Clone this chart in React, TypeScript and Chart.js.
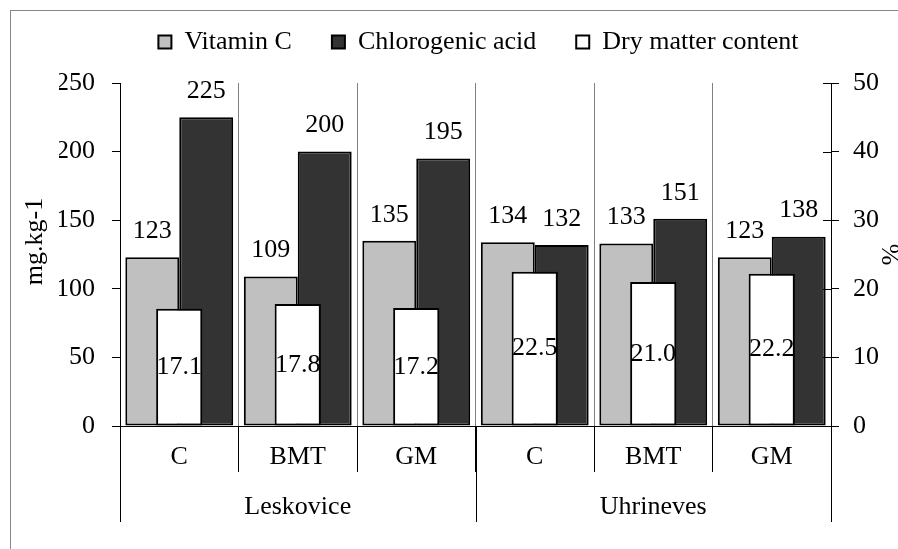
import React, { useEffect, useRef } from 'react';
import { Chart, registerables } from 'chart.js';

Chart.register(...registerables);

// ---- data ----
const categories = ['C', 'BMT', 'GM', 'C', 'BMT', 'GM'];
const groups = ['Leskovice', 'Uhrineves'];
const groupSize = 3;
const vitaminC = [123, 109, 135, 134, 133, 123];
const chlorogenicAcid = [225, 200, 195, 132, 151, 138];
const dryMatter = [17.1, 17.8, 17.2, 22.5, 21.0, 22.2];
const seriesNames = ['Vitamin C', 'Chlorogenic acid', 'Dry matter content'];
const leftAxis = { min: 0, max: 250, step: 50, title: 'mg.kg-1' };
const rightAxis = { min: 0, max: 50, step: 10, title: '%' };

const FONT = '"Liberation Serif", "Times New Roman", serif';

const legendSpacer = {
  id: 'legendSpacer',
  beforeInit(chart: any) {
    const lg = chart.legend;
    if (!lg || lg._patched) return;
    const orig = lg.fit;
    lg.fit = function () {
      orig.call(this);
      this.height += 18;
    };
    lg._patched = true;
  },
};

const valueLabels = {
  id: 'valueLabels',
  afterDatasetsDraw(chart: any) {
    const ctx = chart.ctx;
    ctx.save();
    ctx.font = `26px ${FONT}`;
    ctx.fillStyle = '#000';
    ctx.textAlign = 'center';
    ctx.textBaseline = 'middle';
    chart.data.datasets.forEach((ds: any, di: number) => {
      const meta = chart.getDatasetMeta(di);
      meta.data.forEach((bar: any, i: number) => {
        const v = ds.data[i];
        if (di === 2) {
          ctx.fillText(v.toFixed(1), bar.x, (bar.y + bar.base) / 2);
        } else {
          ctx.fillText(String(v), bar.x, bar.y - 26);
        }
      });
    });
    ctx.restore();
  },
};

const groupAxis = {
  id: 'groupAxis',
  afterDraw(chart: any) {
    const ctx = chart.ctx;
    const x = chart.scales.x;
    const y2 = chart.scales.y2;
    const top = x.top;
    ctx.save();
    // group separators
    ctx.strokeStyle = '#000';
    ctx.lineWidth = 1;
    const bounds: number[] = [];
    for (let g = 0; g <= groups.length; g++) {
      const idx = g * groupSize;
      let px: number;
      if (idx === 0) px = x.left;
      else if (idx >= categories.length) px = x.right;
      else px = (x.getPixelForValue(idx - 1) + x.getPixelForValue(idx)) / 2;
      bounds.push(px);
      const xx = Math.round(px) + 0.5;
      ctx.beginPath();
      ctx.moveTo(xx, top);
      ctx.lineTo(xx, top + 96);
      ctx.stroke();
    }
    // group labels
    ctx.font = `26px ${FONT}`;
    ctx.fillStyle = '#000';
    ctx.textAlign = 'center';
    ctx.textBaseline = 'middle';
    groups.forEach((g, i) => {
      ctx.fillText(g, (bounds[i] + bounds[i + 1]) / 2, top + 81);
    });
    // inner ticks of right axis
    y2.ticks.forEach((t: any) => {
      const py = Math.round(y2.getPixelForValue(t.value)) + 0.5;
      ctx.beginPath();
      ctx.moveTo(y2.left - 8, py);
      ctx.lineTo(y2.left, py);
      ctx.stroke();
    });
    ctx.restore();
  },
};

export default function App() {
  const ref = useRef<HTMLCanvasElement>(null);
  useEffect(() => {
    const canvas = ref.current!;
    Chart.defaults.font.family = FONT;
    Chart.defaults.font.size = 26;
    Chart.defaults.color = '#000';
    const chart = new Chart(canvas, {
      type: 'bar',
      data: {
        labels: categories,
        datasets: [
          {
            label: seriesNames[0],
            data: vitaminC,
            backgroundColor: '#C0C0C0',
            borderColor: '#000',
            borderWidth: 2,
            borderSkipped: false,
            categoryPercentage: 0.91,
            barPercentage: 1,
            order: 1,
            yAxisID: 'y',
          },
          {
            label: seriesNames[1],
            data: chlorogenicAcid,
            backgroundColor: '#333333',
            borderColor: '#000',
            borderWidth: 2,
            borderSkipped: false,
            categoryPercentage: 0.91,
            barPercentage: 1,
            order: 1,
            yAxisID: 'y',
          },
          {
            label: seriesNames[2],
            data: dryMatter,
            backgroundColor: '#FFFFFF',
            borderColor: '#000',
            borderWidth: 2,
            borderSkipped: false,
            grouped: false,
            categoryPercentage: 0.39,
            barPercentage: 1,
            order: 0,
            yAxisID: 'y2',
          },
        ] as any,
      },
      options: {
        responsive: false,
        animation: false,
        devicePixelRatio: 1,
        layout: { padding: { left: 59, right: 0, top: -11, bottom: 0 } },
        plugins: {
          legend: {
            position: 'top',
            labels: {
              boxWidth: 13,
              boxHeight: 13,
              padding: 40,
              font: { size: 26, family: FONT },
              color: '#000',
              sort: (a: any, b: any) => a.datasetIndex - b.datasetIndex,
            },
          },
          tooltip: { enabled: false },
        },
        scales: {
          x: {
            offset: true,
            grid: {
              offset: true,
              drawOnChartArea: true,
              color: '#808080',
              tickColor: '#000',
              tickLength: 46,
              lineWidth: 1,
            },
            border: { color: '#000', width: 1 },
            ticks: { padding: -30, font: { size: 26, family: FONT }, color: '#000', maxRotation: 0, autoSkip: false },
            afterFit: (s: any) => {
              s.height = 123;
            },
          },
          y: {
            position: 'left',
            min: leftAxis.min,
            max: leftAxis.max,
            ticks: { stepSize: leftAxis.step, padding: 17, font: { size: 26, family: FONT }, color: '#000' },
            grid: { drawOnChartArea: false, tickLength: 8, color: '#000' },
            border: { color: '#000', width: 1 },
            title: {
              display: true,
              text: '    ' + leftAxis.title,
              font: { size: 26, family: FONT },
              color: '#000',
              padding: { top: -39.6, bottom: 0 },
            },
            afterFit: (s: any) => {
              s.width = 61;
            },
          },
          y2: {
            position: 'right',
            min: rightAxis.min,
            max: rightAxis.max,
            ticks: { stepSize: rightAxis.step, padding: 14, font: { size: 26, family: FONT }, color: '#000' },
            grid: { drawOnChartArea: false, tickLength: 8, color: '#000' },
            border: { color: '#000', width: 1 },
            title: {
              display: true,
              text: rightAxis.title,
              font: { size: 26, family: FONT },
              color: '#000',
              padding: { top: -6, bottom: 0 },
            },
            afterFit: (s: any) => {
              s.width = 67;
            },
          },
        },
      } as any,
      plugins: [legendSpacer, valueLabels, groupAxis],
    });
    return () => chart.destroy();
  }, []);

  return (
    <div>
      <div
        style={{
          position: 'fixed',
          left: 10,
          top: 10,
          width: 900,
          height: 600,
          borderLeft: '1px solid #888',
          borderTop: '1px solid #888',
          boxSizing: 'border-box',
        }}
      />
      <canvas
        ref={ref}
        width={898}
        height={549}
        style={{ position: 'fixed', left: 0, top: 0, display: 'block' }}
      />
    </div>
  );
}
